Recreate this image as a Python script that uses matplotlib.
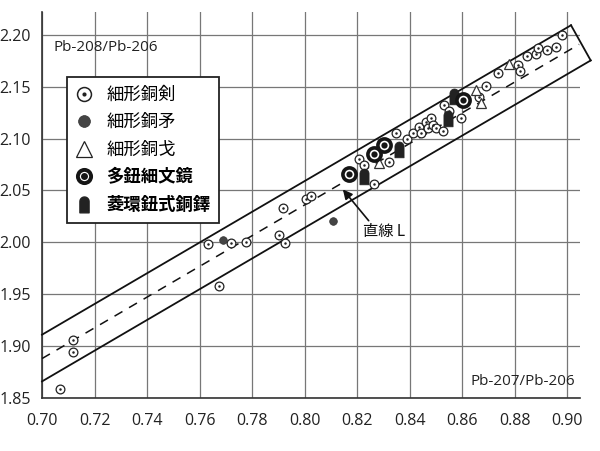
import numpy as np
import matplotlib
matplotlib.use("Agg")
import matplotlib.pyplot as plt
from matplotlib.path import Path
from matplotlib.lines import Line2D
from matplotlib.legend_handler import HandlerTuple

plt.rcParams['font.family'] = ['Open Sans', 'Noto Sans CJK JP', 'DejaVu Sans']

# ---- data (Pb-207/Pb-206, Pb-208/Pb-206) ----
sword_x = [0.7068, 0.7119, 0.7119, 0.7632, 0.7673, 0.7721, 0.7778, 0.7902, 0.7918, 0.7924,
           0.8004, 0.8025, 0.8207, 0.8228, 0.8266, 0.8323, 0.8349, 0.8389, 0.8412, 0.8437,
           0.8444, 0.8463, 0.8469, 0.8482, 0.8488, 0.8501, 0.8526, 0.8532, 0.8551, 0.8596,
           0.8665, 0.8693, 0.8738, 0.8814, 0.8821, 0.8849, 0.8883, 0.8891, 0.8923, 0.8957, 0.8980]
sword_y = [1.859, 1.906, 1.894, 1.998, 1.958, 1.999, 2.000, 2.007, 2.033, 1.999,
           2.042, 2.045, 2.080, 2.075, 2.056, 2.077, 2.105, 2.100, 2.105, 2.111,
           2.105, 2.116, 2.110, 2.120, 2.113, 2.110, 2.107, 2.132, 2.127, 2.120,
           2.140, 2.151, 2.163, 2.171, 2.165, 2.180, 2.182, 2.187, 2.185, 2.188, 2.200]
spear_x = [0.7689, 0.8108]
spear_y = [2.002, 2.021]
halberd_x = [0.8285, 0.8652, 0.8671, 0.8779]
halberd_y = [2.076, 2.147, 2.134, 2.172]
mirror_x = [0.8171, 0.8264, 0.8302, 0.8602]
mirror_y = [2.066, 2.085, 2.094, 2.137]
bell_x = [0.8228, 0.8359, 0.8545, 0.8570]
bell_y = [2.064, 2.090, 2.120, 2.141]

# Line L band
band_slope = 1.48
upper_x = [0.70, 0.9015]
upper_b = 1.911
lower_x = [0.70, 0.909]
lower_b = 1.866
dash_x = [0.70, 0.9046]
dash_b = 1.888

labels = ['細形銅剣', '細形銅矛', '細形銅戈', '多鈕細文鏡', '菱環鈕式銅鐸']
xticks = [0.70, 0.72, 0.74, 0.76, 0.78, 0.80, 0.82, 0.84, 0.86, 0.88, 0.90]
yticks = [1.85, 1.90, 1.95, 2.00, 2.05, 2.10, 2.15, 2.20]

# bell-shaped marker
t = np.linspace(0, np.pi, 20)
bell_verts = [(0.55, -1.0), (0.55, 0.35)] + [(0.55*np.cos(a), 0.35 + 0.55*np.sin(a)) for a in t] + [(-0.55, -1.0), (0.55, -1.0)]
bell_marker = Path(bell_verts, closed=True)

fig = plt.figure(figsize=(6.0, 4.51), dpi=100)
ax = fig.add_axes([0.07, 0.1175, 0.897, 0.8559])
ax.set_xlim(0.70, 0.905)
ax.set_ylim(1.85, 2.222)
ax.set_xticks(xticks)
ax.set_yticks(yticks)
ax.set_xticklabels([f'{v:.2f}' for v in xticks])
ax.set_yticklabels([f'{v:.2f}' for v in yticks])
ax.tick_params(length=0, labelsize=11.5, colors='#222')
ax.tick_params(axis='x', pad=11)
ax.tick_params(axis='y', pad=8)
ax.grid(True, color='#777', lw=0.9)
ax.set_axisbelow(True)
for s in ['top', 'right']:
    ax.spines[s].set_visible(False)
for s in ['left', 'bottom']:
    ax.spines[s].set_color('#333')
    ax.spines[s].set_linewidth(1.2)

ux = np.array(upper_x); lx = np.array(lower_x); dx = np.array(dash_x)
uy = upper_b + band_slope*(ux - 0.70)
ly = lower_b + band_slope*(lx - 0.70)
dy = dash_b + band_slope*(dx - 0.70)
ax.plot(ux, uy, color='#111', lw=1.3, clip_on=False, zorder=3)
ax.plot(lx, ly, color='#111', lw=1.3, clip_on=False, zorder=3)
ax.plot([ux[-1], lx[-1]], [uy[-1], ly[-1]], color='#111', lw=1.3, clip_on=False, zorder=3)
ax.plot(dx, dy, color='#111', lw=1.1, dashes=(6, 5), clip_on=False, zorder=3)

# markers
ax.plot(sword_x, sword_y, 'o', ms=6.3, mfc='white', mec='#222', mew=0.9, ls='none', zorder=4)
ax.plot(sword_x, sword_y, 'o', ms=1.8, mfc='#222', mec='#222', mew=0, ls='none', zorder=5)
ax.plot(spear_x, spear_y, 'o', ms=5.5, mfc='#444', mec='#333', mew=0.5, ls='none', zorder=4)
ax.plot(halberd_x, halberd_y, '^', ms=7, mfc='white', mec='#333', mew=0.9, ls='none', zorder=4)
ax.plot(bell_x, bell_y, marker=bell_marker, ms=12, mfc='#222', mec='#222', mew=0.5, ls='none', zorder=6)
ax.plot(mirror_x, mirror_y, 'o', ms=9.5, mfc='white', mec='#151515', mew=2.6, ls='none', zorder=7)
ax.plot(mirror_x, mirror_y, 'o', ms=4.5, mfc='#151515', mec='#151515', mew=0, ls='none', zorder=8)

# axis texts
ax.text(0.022, 0.909, 'Pb-208/Pb-206', transform=ax.transAxes, fontsize=11, color='#222',
        ha='left', va='center')
ax.text(0.99, 0.044, 'Pb-207/Pb-206', transform=ax.transAxes, fontsize=11, color='#222',
        ha='right', va='center')

# 直線 L annotation
ax.annotate('直線 L', xy=(0.8146, 2.051), xytext=(0.8221, 2.010), fontsize=11,
            family=['Noto Sans CJK JP', 'DejaVu Sans'], color='#111', va='center', ha='left',
            arrowprops=dict(arrowstyle='-|>', color='#111', lw=1.2, mutation_scale=14,
                            shrinkA=0, shrinkB=0, relpos=(0.2, 1.0)), zorder=9)

# legend
h_sword = (Line2D([], [], marker='o', ms=10, mfc='white', mec='#222', mew=1.1, ls='none'),
           Line2D([], [], marker='o', ms=3, mfc='#222', mec='#222', mew=0, ls='none'))
h_spear = Line2D([], [], marker='o', ms=8.5, mfc='#444', mec='#333', mew=0.5, ls='none')
h_halb = Line2D([], [], marker='^', ms=11, mfc='white', mec='#222', mew=0.9, ls='none')
h_mirror = (Line2D([], [], marker='o', ms=9.5, mfc='white', mec='#151515', mew=2.8, ls='none'),
            Line2D([], [], marker='o', ms=5, mfc='#151515', mec='#151515', mew=0, ls='none'))
h_bell = Line2D([], [], marker=bell_marker, ms=12, mfc='#222', mec='#222', ls='none')
handles = [h_sword, h_spear, h_halb, h_mirror, h_bell]
leg = ax.legend(handles, labels, loc='upper left', bbox_to_anchor=(0.0465, 0.8316),
                frameon=True, fancybox=False, framealpha=1, edgecolor='#222',
                prop={'family': ['Noto Sans CJK JP'], 'size': 12.5},
                labelspacing=0.55, handlelength=1.0, handletextpad=0.75,
                borderpad=0.5, borderaxespad=0,
                handler_map={tuple: HandlerTuple(ndivide=1)})
leg.get_frame().set_linewidth(1.3)
leg.set_zorder(10)
for i, txt in enumerate(leg.get_texts()):
    if i >= 3:
        txt.set_fontweight('bold')

fig.savefig('out.png', dpi=100, facecolor='white')
